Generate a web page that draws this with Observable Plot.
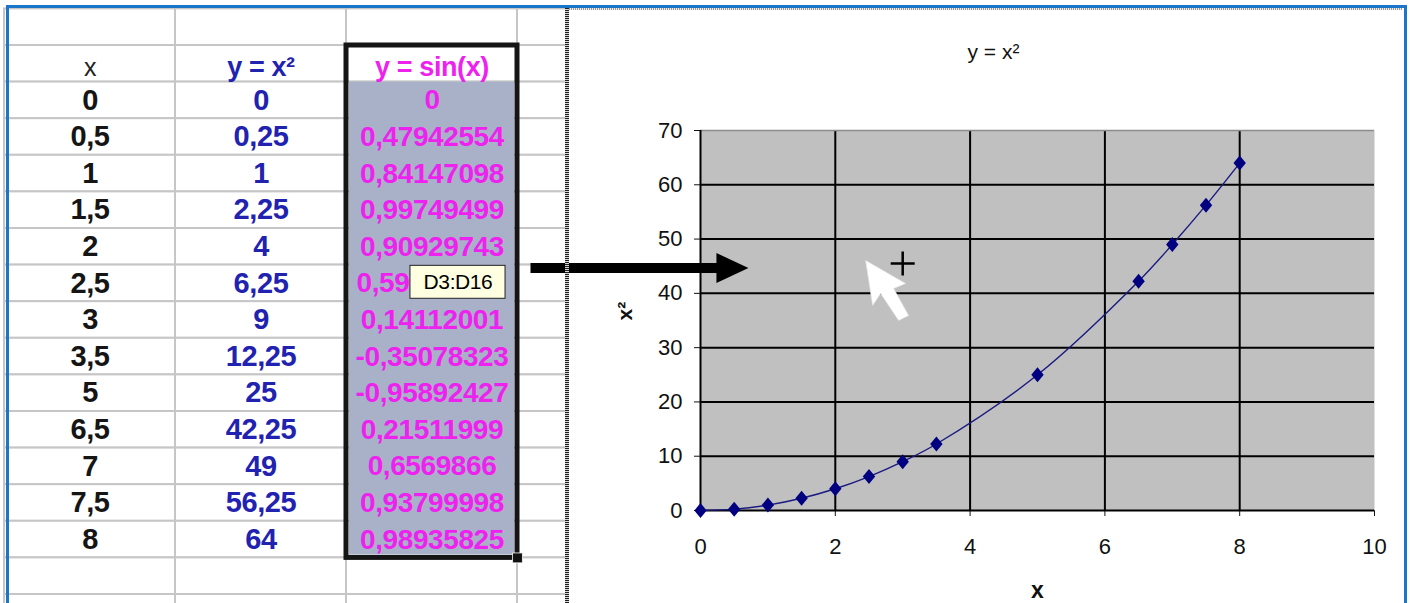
<!DOCTYPE html>
<html>
<head>
<meta charset="utf-8">
<script src="https://cdn.jsdelivr.net/npm/d3@7"></script>
<script src="https://cdn.jsdelivr.net/npm/@observablehq/plot@0.6"></script>
<style>
html, body { margin: 0; padding: 0; background: #fff; overflow: hidden; }
#stage { position: relative; width: 1410px; height: 603px; overflow: hidden; background: #fff; }
#stage svg { position: absolute; left: 0; top: 0; }
#divider { position: absolute; left: 565px; top: 8px; width: 4px; height: 600px;
  background: repeating-linear-gradient(to bottom, #1e1e1e 0 1px, #d6d6d6 1px 2px); }
#topdots { position: absolute; left: 569px; top: 8px; width: 833px; height: 2px;
  background: repeating-linear-gradient(to right, #9a9a9a 0 1px, #eeeeee 1px 2px); }
#outline { position: absolute; left: 6px; top: 5px; width: 1401px; height: 640px; box-sizing: border-box;
  border: 3px solid #1a76c9; border-bottom: none; pointer-events: none; }
</style>
</head>
<body>
<div id="stage"></div>
<script>
// ---------- data ----------
const xValues = [0, 0.5, 1, 1.5, 2, 2.5, 3, 3.5, 5, 6.5, 7, 7.5, 8];
const squares = [0, 0.25, 1, 2.25, 4, 6.25, 9, 12.25, 25, 42.25, 49, 56.25, 64];
const sines = [0, 0.47942554, 0.84147098, 0.99749499, 0.90929743, 0.59847214, 0.14112001,
  -0.35078323, -0.95892427, 0.21511999, 0.6569866, 0.93799998, 0.98935825];
const columnHeaders = ["x", "y = x²", "y = sin(x)"];
const selectionLabel = "D3:D16";
const chartTitle = "y = x²";
const xAxisLabel = "x";
const yAxisLabel = "x²";
const xTicks = [0, 2, 4, 6, 8, 10];
const yTicks = [0, 10, 20, 30, 40, 50, 60, 70];

// ---------- helpers ----------
const comma = v => String(v).replace(".", ",");
const rows = xValues.map((x, i) => ({row: i + 1, x, sq: squares[i], s: sines[i]}));
const points = xValues.map((x, i) => ({x, y: squares[i]}));

// spreadsheet layout (column / row units)
const gridCells = [];
for (let r = -1; r < 16; ++r) for (let c = 0; c < 4; ++c) gridCells.push({c, r});
const selection = {c1: 2, c2: 3, r1: 0, r2: 14, dataStart: 1};
const tooltipRow = 6; // the row whose value is partly hidden by the tooltip
const tooltipBox = {x1: 2.374, x2: 2.93, y1: 6.02, y2: 6.92};
const bigArrow = {x1: 3.076, x2: 4.2, head: 4.257, y: 6.08};
const openRows = rows.filter(d => d.row !== tooltipRow);
const hiddenRows = rows.filter(d => d.row === tooltipRow);

// annotation positions in chart units
const cursorAt = {x: 2.45, y: 46.05};
const crossAt = {x: 3.0, y: 45.5};

// custom shapes
const arrowHead = {draw(ctx) { ctx.moveTo(16, 0); ctx.lineTo(-16, -15); ctx.lineTo(-16, 15); ctx.closePath(); }};
const cursorShape = {draw(ctx) {
  ctx.moveTo(0, 0); ctx.lineTo(7, 45); ctx.lineTo(15, 33); ctx.lineTo(33, 60);
  ctx.lineTo(43, 55); ctx.lineTo(28, 28); ctx.lineTo(40, 23); ctx.closePath(); }};
const crossShape = {draw(ctx) { ctx.moveTo(-12, 0); ctx.lineTo(12, 0); ctx.moveTo(0, -12); ctx.lineTo(0, 12); }};
const diamondShape = {draw(ctx) { ctx.moveTo(0, -7.5); ctx.lineTo(6.2, 0); ctx.lineTo(0, 7.5); ctx.lineTo(-6.2, 0); ctx.closePath(); }};

const FONT = "'Liberation Sans', Arial, sans-serif";

// ---------- chart ----------
const chart = Plot.plot({
  width: 1410, height: 603,
  marginLeft: 700, marginRight: 36, marginTop: 130, marginBottom: 93,
  style: {background: "transparent", fontFamily: FONT, fontSize: "22px", color: "#111"},
  x: {domain: [0, 10], ticks: xTicks, tickSize: 6, tickPadding: 22, label: null},
  y: {domain: [0, 70], ticks: yTicks, tickSize: 6, tickPadding: 12, label: null},
  marks: [
    Plot.frame({fill: "#c0c0c0", stroke: "none"}),
    Plot.gridX(xTicks.slice(1, -1), {stroke: "#000", strokeOpacity: 1, strokeWidth: 2}),
    Plot.gridY(yTicks.slice(1, -1), {stroke: "#000", strokeOpacity: 1, strokeWidth: 2}),
    Plot.ruleY([70], {stroke: "#8c8c8c", strokeWidth: 1.5}),
    Plot.ruleX([0], {stroke: "#000", strokeWidth: 2}),
    Plot.ruleY([0], {stroke: "#000", strokeWidth: 2}),
    Plot.line(points, {x: "x", y: "y", stroke: "#1a1a80", strokeWidth: 1.4, curve: "catmull-rom"}),
    Plot.dot(points, {x: "x", y: "y", symbol: diamondShape, fill: "#000080"}),
    Plot.dot([cursorAt], {x: "x", y: "y", symbol: cursorShape, fill: "#fff", stroke: "#e4e4e4", strokeWidth: 0.6}),
    Plot.dot([crossAt], {x: "x", y: "y", symbol: crossShape, fill: "none", stroke: "#000", strokeWidth: 2.5}),
    Plot.text([chartTitle], {frameAnchor: "top", lineAnchor: "middle", dy: -78, dx: -44, fontSize: 21, fill: "#111"}),
    Plot.text([xAxisLabel], {frameAnchor: "bottom", lineAnchor: "middle", dy: 80, fontSize: 23, fontWeight: "bold", fill: "#111"}),
    Plot.text([yAxisLabel], {frameAnchor: "left", dx: -75, rotate: -90, fontSize: 21, fontWeight: "bold", fill: "#111"})
  ]
});

// ---------- spreadsheet ----------
const sheet = Plot.plot({
  width: 1410, height: 603,
  marginLeft: 0, marginTop: 0, marginBottom: 0, marginRight: 1410 - 567,
  style: {background: "transparent", fontFamily: FONT, letterSpacing: "-0.4px"},
  x: {type: "linear", domain: [0, 4], range: [4, 688], axis: null},
  y: {type: "linear", domain: [-1, 15], range: [8.4, 594], axis: null},
  marks: [
    Plot.rect(gridCells, {x1: d => d.c, x2: d => d.c + 1, y1: d => d.r, y2: d => d.r + 1,
      fill: "#fff", stroke: "#c6c6c6", strokeWidth: 2, clip: true}),
    Plot.rect([selection], {x1: "c1", x2: "c2", y1: "dataStart", y2: "r2", fill: "#a9b1c8",
      insetLeft: 3, insetRight: 3, insetBottom: 3}),
    // headers
    Plot.text([columnHeaders[0]], {x: 0.5, y: 0.5, dy: 4, fontSize: 25, fill: "#222"}),
    Plot.text([columnHeaders[1]], {x: 1.5, y: 0.5, dy: 4, fontSize: 27, fontWeight: "bold", fill: "#2222b0"}),
    Plot.text([columnHeaders[2]], {x: 2.5, y: 0.5, dy: 4, fontSize: 27, fontWeight: "bold", fill: "#ee22ee"}),
    // values
    Plot.text(rows, {x: 0.5, y: d => d.row + 0.5, text: d => comma(d.x), fontSize: 29, fontWeight: "bold", fill: "#151515"}),
    Plot.text(rows, {x: 1.5, y: d => d.row + 0.5, text: d => comma(d.sq), fontSize: 29, fontWeight: "bold", fill: "#2222b0"}),
    Plot.text(openRows, {x: 2.5, y: d => d.row + 0.5, text: d => comma(d.s), fontSize: 28, fontWeight: "bold", fill: "#ee22ee"}),
    // the value partly covered by the tooltip: only its visible start is drawn
    Plot.text(hiddenRows, {x: tooltipBox.x1, y: d => d.row + 0.5, dx: -1, textAnchor: "end",
      text: d => comma(d.s).slice(0, 4), fontSize: 28, fontWeight: "bold", fill: "#ee22ee"}),
    // selection border + handle
    Plot.rect([selection], {x1: "c1", x2: "c2", y1: "r1", y2: "r2", fill: "none", stroke: "#151515", strokeWidth: 5}),
    Plot.dot([selection], {x: "c2", y: "r2", symbol: "square", r: 5.6, fill: "#111", stroke: "#fff", strokeWidth: 0.8}),
    // tooltip
    Plot.rect([tooltipBox], {x1: "x1", x2: "x2", y1: "y1", y2: "y2", fill: "#ffffe1", stroke: "#222", strokeWidth: 1}),
    Plot.text([selectionLabel], {x: (tooltipBox.x1 + tooltipBox.x2) / 2, y: (tooltipBox.y1 + tooltipBox.y2) / 2, fontSize: 21, fill: "#000"}),
    // arrow from table to chart
    Plot.link([bigArrow], {x1: "x1", x2: "x2", y1: "y", y2: "y", stroke: "#000", strokeWidth: 10}),
    Plot.dot([bigArrow], {x: "head", y: "y", symbol: arrowHead, fill: "#000"})
  ]
});

const stage = document.getElementById("stage");
stage.appendChild(chart);
stage.appendChild(sheet);
for (const id of ["divider", "topdots", "outline"]) {
  const el = document.createElement("div");
  el.id = id;
  stage.appendChild(el);
}
</script>
</body>
</html>
